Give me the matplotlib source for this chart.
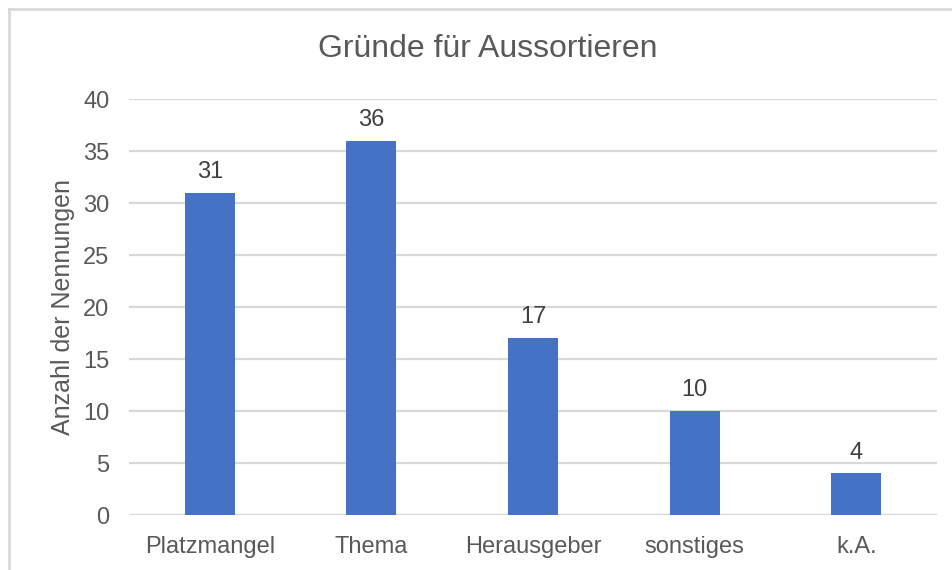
import numpy as np
import matplotlib
matplotlib.use("Agg")
import matplotlib.pyplot as plt
from matplotlib.lines import Line2D

# %% data
categories = ["Platzmangel", "Thema", "Herausgeber", "sonstiges", "k.A."]
counts = [31, 36, 17, 10, 4]
y_ticks = [0, 5, 10, 15, 20, 25, 30, 35, 40]

title = "Gründe für Aussortieren"
y_label = "Anzahl der Nennungen"

# %% style
plt.rcParams["font.family"] = ["Liberation Sans", "DejaVu Sans"]
bar_color = "#4472C4"
text_color = "#595959"
grid_color = "#D9D9D9"

W, H = 953, 570
fig = plt.figure(figsize=(W / 100, H / 100), dpi=100)
ax = fig.add_axes([129 / W, 1 - 515 / H, (937 - 129) / W, (515 - 99) / H])

x = np.arange(len(categories))
bars = ax.bar(x, counts, width=0.31, color=bar_color, zorder=3)
for xi, v in zip(x, counts):
    ax.annotate(str(v), (xi, v), xytext=(0, 7), textcoords="offset points",
                ha="center", va="bottom", fontsize=17, color="#404040")

ax.set_xlim(-0.5, len(categories) - 0.5)
ax.set_ylim(0, 40)
ax.set_yticks(y_ticks)
ax.set_xticks(x)
ax.set_xticklabels(categories)
ax.tick_params(axis="both", length=0, labelsize=17, labelcolor=text_color)
ax.tick_params(axis="y", pad=14)
ax.tick_params(axis="x", pad=15)
ax.yaxis.grid(True, color=grid_color, linewidth=1.6, zorder=0)
for s in ax.spines.values():
    s.set_visible(False)
ax.axhline(0, color=grid_color, linewidth=1.6, zorder=2)

ax.set_ylabel(y_label, fontsize=18, color=text_color, labelpad=6)
fig.text(488 / W, 1 - 49 / H, title, ha="center", va="center",
         fontsize=23, color=text_color)

# outer chart frame (left and top edges only visible)
fig.add_artist(Line2D([9 / W, 9 / W], [0, 1 - 9 / H], transform=fig.transFigure,
                      color=grid_color, linewidth=2))
fig.add_artist(Line2D([9 / W, 1], [1 - 9 / H, 1 - 9 / H], transform=fig.transFigure,
                      color=grid_color, linewidth=2))

fig.savefig("out.png", dpi=100, facecolor="white")
